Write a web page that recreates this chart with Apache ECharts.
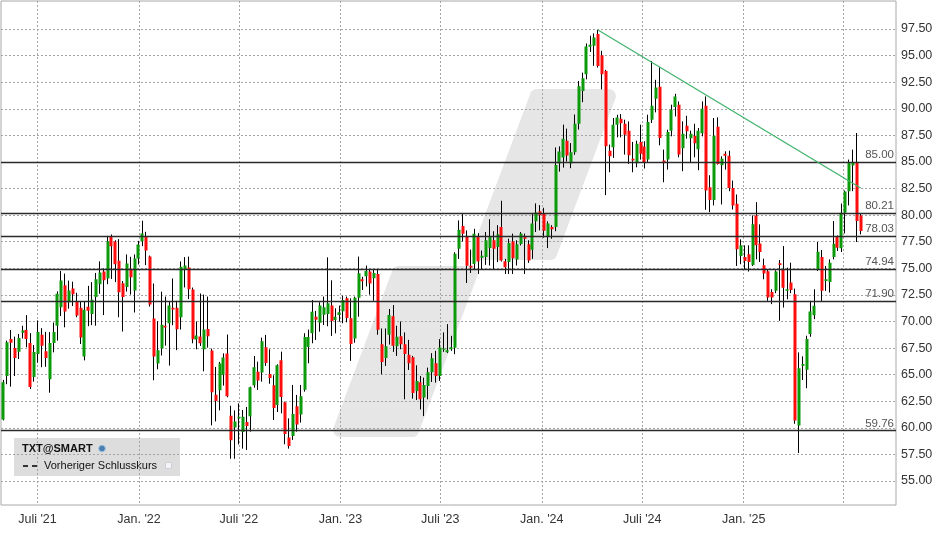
<!DOCTYPE html>
<html><head><meta charset="utf-8">
<script src="https://cdn.jsdelivr.net/npm/echarts@6/dist/echarts.min.js"></script>
<style>html,body{margin:0;padding:0;background:#fff}#c{width:948px;height:534px}</style>
</head><body><div id="c"></div>
<script>
// Weekly candles, first week ending 2021-04-30
const firstWeek = Date.UTC(2021, 3, 30);
const open = [60.77,64.87,68.36,67.5,67.15,68.93,69.2,67.97,64.78,66.93,68.74,67.2,64.56,67.97,69.6,71.33,73.4,71.8,73.1,71.9,71.3,66.71,71.38,70.7,72.3,73.5,74.7,74.05,77.95,77.52,75.72,73.6,
73.25,74.95,72.9,75.92,77.55,78.02,76.11,70.27,66.04,67.45,69.6,69.83,71.3,71.3,70.4,74.89,75.07,73.0,68.3,68.58,67.38,69.3,67.26,63.12,63.53,65.0,66.98,61.14,60.04,60.89,59.6,
60.55,61.08,64.0,65.28,65.19,67.57,65.06,64.0,62.15,66.35,62.4,59.08,59.23,62.02,61.24,63.59,67.6,68.89,70.45,69.89,70.64,70.7,71.49,70.14,70.61,70.96,72.18,70.3,68.39,72.24,73.97,
74.25,74.69,74.06,74.47,67.86,66.57,68.75,70.5,67.68,68.62,67.86,66.86,66.64,63.46,64.28,62.86,63.93,65.22,66.07,64.88,67.33,67.11,67.39,67.52,76.83,78.97,78.02,75.25,75.41,78.02,75.98,
76.05,76.9,77.63,77.0,78.89,75.67,75.58,77.53,75.83,77.28,78.0,77.25,76.74,79.42,80.37,80.15,78.04,78.89,78.89,84.85,85.42,86.99,84.85,85.92,88.6,91.66,93.24,95.83,95.92,97.03,95.04,
93.56,86.06,86.38,88.5,89.06,88.59,87.94,85.31,84.88,86.88,86.44,85.22,88.97,90.94,92.06,85.13,85.22,87.94,90.16,90.38,86.28,88.41,87.22,87.47,86.19,87.69,90.28,82.63,81.41,88.31,84.69,85.78,85.59,
82.56,81.06,76.16,76.06,76.31,75.31,79.97,77.34,75.28,74.72,72.78,72.88,75.47,74.84,72.88,73.66,72.56,60.22,65.84,65.47,68.81,70.59,74.91,76.06,73.81,73.72,76.06,77.97,76.88,80.22,82.25,84.66,84.97,79.97];
const close = [64.28,68.05,68.0,66.56,68.44,69.15,68.36,63.84,67.12,69.02,67.72,66.56,67.97,69.0,72.6,73.84,70.94,72.9,72.55,70.55,68.5,71.1,71.0,72.05,73.96,74.6,73.87,77.55,77.07,75.38,72.74,72.3,
75.45,74.16,75.92,77.24,78.27,76.67,71.59,66.7,67.29,69.7,69.43,71.5,71.12,69.27,75.14,75.26,73.03,68.33,68.67,67.95,69.24,68.61,63.34,62.52,66.04,66.6,62.96,58.82,60.6,61.05,61.05,
60.17,63.81,65.69,64.44,68.13,66.1,64.69,61.87,65.88,62.9,59.42,58.29,61.3,60.3,62.96,68.54,68.54,70.92,70.17,71.49,71.33,71.71,70.05,70.45,70.86,72.02,70.33,67.88,72.24,74.53,73.78,
74.75,73.56,74.56,69.22,66.2,67.68,70.6,67.71,68.56,67.86,66.95,66.07,63.27,64.4,62.68,64.03,65.22,66.54,64.88,67.55,67.46,67.3,67.58,76.36,78.62,78.24,75.25,75.07,78.24,75.63,76.17,
77.63,78.0,76.84,78.19,75.73,75.1,77.37,75.95,77.25,78.26,77.78,75.73,79.2,80.24,79.99,78.54,79.2,78.67,84.72,85.99,87.18,85.61,85.92,88.6,92.11,92.86,95.86,96.02,96.71,94.03,93.24,
86.47,85.53,88.5,89.19,88.63,87.56,85.63,85.13,86.72,85.78,85.0,88.75,90.28,92.0,87.25,85.0,87.81,89.91,91.16,85.69,87.66,87.88,87.66,86.75,87.94,90.0,82.31,81.41,87.47,84.81,85.31,85.59,82.56,
80.91,76.78,77.16,75.69,75.59,79.13,77.16,76.53,74.5,72.25,72.25,74.69,75.31,73.16,73.03,72.97,60.69,65.59,66.0,68.34,70.94,71.47,76.56,72.88,73.97,75.53,77.31,76.94,80.22,82.22,84.97,84.91,79.44,78.5];
const low = [60.7,64.1,63.87,64.87,66.47,68.4,67.57,63.65,64.34,66.12,65.7,65.74,63.3,67.1,68.2,70.5,69.45,71.2,71.45,70.4,67.88,66.34,69.56,69.65,69.6,72.6,70.6,73.5,74.0,73.7,70.4,69.05,
72.81,72.53,70.84,75.36,77.08,75.3,71.4,64.47,65.5,66.8,67.73,65.85,69.65,67.3,69.24,73.2,72.1,67.95,67.38,67.7,65.31,67.54,60.23,60.6,61.64,63.97,62.87,57.09,57.09,58.44,58.04,
57.92,59.64,63.78,63.56,64.34,65.82,64.15,60.74,61.49,61.36,58.45,58.04,58.86,59.64,60.49,63.4,66.07,67.95,68.26,69.04,69.67,69.55,68.64,68.89,69.98,69.83,69.92,66.29,68.0,70.45,72.96,
73.3,72.52,71.95,68.75,65.03,65.82,67.83,67.14,66.76,67.39,62.68,65.44,62.74,62.61,61.73,61.1,62.68,64.31,64.25,64.41,67.14,67.02,67.24,66.92,75.88,77.52,73.62,74.56,74.94,74.47,74.94,
75.32,75.26,74.94,75.58,75.64,74.47,74.47,74.47,75.26,77.15,74.47,75.51,75.89,78.41,78.57,77.88,76.9,77.78,78.48,84.09,84.47,85.04,84.41,85.67,88.04,90.62,92.77,95.35,94.03,93.87,91.82,
81.88,84.03,85.38,87.31,87.31,85.69,84.81,84.03,84.5,85.22,84.38,85.0,88.66,89.66,86.56,83.09,84.28,87.41,89.28,85.44,84.13,87.19,84.91,85.44,84.22,87.41,80.5,80.28,80.91,84.75,81.0,84.28,82.25,
80.53,75.22,75.38,74.91,74.69,75.22,75.84,75.59,73.97,71.94,71.63,72.66,70.06,71.31,72.09,72.66,60.38,57.63,64.5,63.72,68.56,70.22,74.75,71.84,72.88,72.72,75.84,76.63,76.53,78.28,80.91,82.25,77.47,78.19];
const high = [64.5,68.2,69.2,68.57,68.82,69.6,70.6,68.9,67.78,70.1,69.37,69.02,69.0,69.9,72.83,74.75,74.5,73.84,73.74,72.7,71.85,71.9,73.35,73.7,74.56,75.65,75.0,78.05,78.18,77.64,77.74,73.8,
76.3,76.08,76.3,77.58,79.47,78.43,76.2,73.57,70.02,72.8,72.34,71.87,74.04,71.94,75.64,76.05,76.1,73.19,70.0,72.63,72.53,72.34,67.45,65.72,66.2,67.0,68.77,62.08,61.64,62.3,61.68,
61.96,63.87,66.76,66.22,68.48,68.73,67.38,64.94,65.97,67.16,62.46,60.89,64.03,63.09,64.03,68.89,69.23,72.02,70.99,71.8,72.34,76.03,73.87,71.24,71.49,72.43,72.34,72.18,72.34,76.1,74.2,
75.25,74.85,74.85,74.94,69.34,69.34,71.17,71.54,69.6,70.0,68.97,68.27,66.76,65.88,64.88,64.72,65.66,67.02,67.24,68.34,68.97,69.75,68.65,76.51,79.5,80.1,78.56,76.76,78.71,78.3,76.67,
78.41,79.61,78.48,79.05,81.35,75.89,77.78,78.26,77.63,78.41,78.26,77.63,80.15,81.1,80.94,80.69,79.42,79.05,86.36,86.46,88.51,88.13,86.77,89.46,92.61,93.4,96.14,96.87,97.09,97.4,95.45,
93.66,86.63,89.13,89.44,89.5,88.97,88.81,86.88,87.0,88.5,86.94,89.44,94.5,92.72,93.91,86.16,88.03,90.38,91.41,90.69,88.81,89.34,87.94,88.59,88.19,90.69,91.16,83.75,89.13,89.19,85.53,86.0,86.06,
83.25,81.94,77.72,77.16,77.16,79.97,81.22,79.13,75.91,74.84,73.03,74.81,75.78,77.09,75.06,75.53,73.09,67.09,66.72,68.66,71.94,73.03,77.47,76.72,75.22,75.84,79.44,78.09,81.09,82.31,85.22,86.16,87.72,80.13];

const levels = [85.00, 80.21, 78.03, 74.94, 71.90, 59.76];
const trendLine = [[Date.UTC(2024, 3, 12), 97.4], [Date.UTC(2025, 7, 1), 82.55]];
const yTicks = [55, 57.5, 60, 62.5, 65, 67.5, 70, 72.5, 75, 77.5, 80, 82.5, 85, 87.5, 90, 92.5, 95, 97.5];
const xTickDates = [Date.UTC(2021,6,1), Date.UTC(2022,0,1), Date.UTC(2022,6,1), Date.UTC(2023,0,1), Date.UTC(2023,6,1), Date.UTC(2024,0,1), Date.UTC(2024,6,1), Date.UTC(2025,0,1), Date.UTC(2025,6,1)];
const xTickLabels = ["Juli '21", "Jan. '22", "Juli '22", "Jan. '23", "Juli '23", "Jan. '24", "Juli '24", "Jan. '25", ""];

const DAY = 864e5;
const weeks = open.map((_, i) => firstWeek + i * 7 * DAY);
const ohlc = weeks.map((t, i) => [t, open[i], close[i], low[i], high[i]]);

const font = 'Liberation Sans, Arial, sans-serif';
const chart = echarts.init(document.getElementById('c'), null, {renderer: 'canvas'});
chart.setOption({
  animation: false,
  backgroundColor: '#ffffff',
  grid: {left: 1, top: 1, width: 895, height: 504, show: true, borderColor: '#a8a8a8', borderWidth: 1},
  xAxis: {
    type: 'value',
    min: firstWeek - 4.17 * DAY,
    max: firstWeek + 1618.1 * DAY,
    axisLine: {show: false},
    axisTick: {show: false, customValues: xTickDates},
    axisLabel: {
      customValues: xTickDates.slice(0, 8),
      formatter: v => { const i = xTickDates.indexOf(v); return i >= 0 ? xTickLabels[i] : ''; },
      color: '#333', fontSize: 12.5, fontFamily: font, margin: 8
    },
    splitLine: {show: true, lineStyle: {color: '#a5a5a5', type: [2, 2], width: 1}}
  },
  yAxis: {
    type: 'value',
    position: 'right',
    min: 52.742,
    max: 100.133,
    axisLine: {show: false},
    axisTick: {show: false, customValues: yTicks},
    axisLabel: {customValues: yTicks, formatter: v => v.toFixed(2), color: '#333', fontSize: 12.5, fontFamily: font, margin: 5},
    splitLine: {show: true, lineStyle: {color: '#a5a5a5', type: [2, 2], width: 1}}
  },
  graphic: [
    {type: 'polygon', z: -10, silent: true,
     shape: {points: [[536.9, 96], [608.9, 96], [550.2, 253], [478.2, 253]]},
     style: {fill: '#e6e6e6', stroke: '#e6e6e6', lineWidth: 14, lineJoin: 'round'}},
    {type: 'polygon', z: -10, silent: true,
     shape: {points: [[398.9, 273], [470.9, 273], [412.2, 430], [340.2, 430]]},
     style: {fill: '#e6e6e6', stroke: '#e6e6e6', lineWidth: 14, lineJoin: 'round'}},
    {type: 'group', z: 50, children: [
      {type: 'rect', shape: {x: 14, y: 438, width: 166, height: 38}, style: {fill: '#dddddd'}},
      {type: 'text', x: 22, y: 448.5, style: {text: 'TXT@SMART', font: 'bold 11px ' + font, fill: '#111', verticalAlign: 'middle'}},
      {type: 'circle', shape: {cx: 102, cy: 448.5, r: 3.3}, style: {fill: '#4a7fb0', stroke: '#9cc0dd', lineWidth: 1}},
      {type: 'line', shape: {x1: 23, y1: 466, x2: 28, y2: 466}, style: {stroke: '#333', lineWidth: 2}},
      {type: 'line', shape: {x1: 32, y1: 466, x2: 38, y2: 466}, style: {stroke: '#333', lineWidth: 2}},
      {type: 'text', x: 44, y: 466, style: {text: 'Vorheriger Schlusskurs', font: '11px ' + font, fill: '#111', verticalAlign: 'middle'}},
      {type: 'rect', shape: {x: 165.5, y: 462.5, width: 6, height: 6}, style: {fill: '#f4f4f8', stroke: '#cfcfd8', lineWidth: 1}}
    ]}
  ],
  series: [
    {
      name: 'wicks', type: 'candlestick', data: ohlc, barWidth: 1, z: 3, silent: true,
      itemStyle: {color: '#000', color0: '#000', borderColor: '#000', borderColor0: '#000', borderWidth: 1},
      markLine: {
        silent: true, symbol: 'none', animation: false,
        data: levels.map(v => ({yAxis: v})).concat([
          [{coord: trendLine[0], lineStyle: {color: '#3fb36a', width: 1.2, type: 'solid'}, label: {show: false}},
           {coord: trendLine[1]}]
        ]),
        lineStyle: {color: '#2a2a2a', width: 1.3, type: 'solid'},
        label: {position: 'insideEndTop', formatter: p => p.value.toFixed(2), color: '#555', fontSize: 11.5, fontFamily: font, distance: [2, 1]}
      }
    },
    {
      name: 'TXT@SMART', type: 'candlestick', data: ohlc, barWidth: 3.5, z: 4, silent: true,
      itemStyle: {color: '#0a9a0a', color0: '#ff0d0d', borderColor: '#0a9a0a', borderColor0: '#ff0d0d', borderWidth: 0}
    }
  ]
});
</script></body></html>
